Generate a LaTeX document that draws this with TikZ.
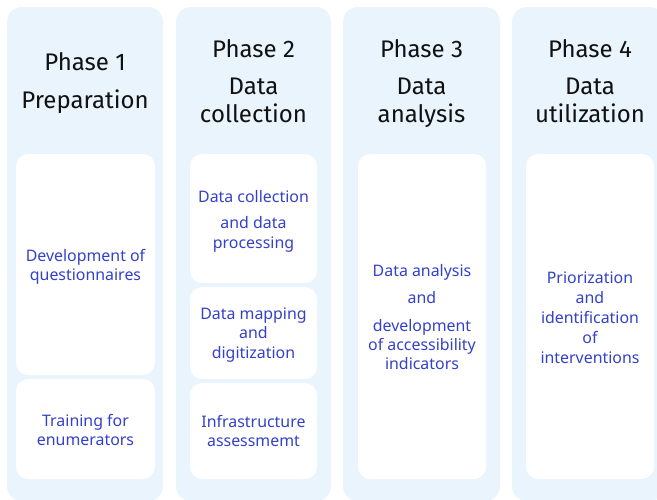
\documentclass[tikz,border=0pt]{standalone}
\usepackage{fontspec}
\setmainfont{Noto Sans}
\newfontfamily\titlefont{Fira Sans}
\definecolor{colfill}{HTML}{EAF4FD}
\definecolor{bodyblue}{HTML}{3441C9}
\definecolor{titleblack}{HTML}{111111}
\begin{document}
\begin{tikzpicture}[x=1pt,y=-1pt,
  column/.style={rectangle, rounded corners=15pt, fill=colfill, draw=none, inner sep=0pt, outer sep=0pt},
  card/.style={rectangle, rounded corners=12pt, fill=white, draw=none, inner sep=0pt, outer sep=0pt},
  ttl/.style={anchor=base, inner sep=0pt, text=titleblack, font=\titlefont\fontsize{24}{28}\selectfont},
  txt/.style={anchor=base, inner sep=0pt, text=bodyblue, font=\fontsize{15.9}{19}\selectfont}]
\useasboundingbox (0,0) rectangle (657,499);
\fill[white] (0,0) rectangle (657,499);
% columns
\node[column, minimum width=156pt, minimum height=494pt] (c1) at (85,254) {};
\node[column, minimum width=155pt, minimum height=494pt] (c2) at (253.5,254) {};
\node[column, minimum width=157pt, minimum height=494pt] (c3) at (421.5,254) {};
\node[column, minimum width=152pt, minimum height=494pt] (c4) at (588,254) {};
% cards
\node[card, minimum width=139pt, minimum height=221pt] (b11) at (85.5,264.5) {};
\node[card, minimum width=139pt, minimum height=100pt] (b12) at (85.5,429) {};
\node[card, minimum width=127pt, minimum height=129pt] (b21) at (253.5,218.5) {};
\node[card, minimum width=127pt, minimum height=92pt] (b22) at (253.5,333) {};
\node[card, minimum width=127pt, minimum height=96pt] (b23) at (253.5,431) {};
\node[card, minimum width=128pt, minimum height=325pt] (b31) at (422,316.5) {};
\node[card, minimum width=128pt, minimum height=325pt] (b41) at (590,316.5) {};
% titles
\node[ttl] (t1a) at (85,70) {Phase 1};
\node[ttl] (t1b) at (85,108) {Preparation};
\node[ttl] (t2a) at (253.5,57) {Phase 2};
\node[ttl] (t2b) at (253.5,94) {Data};
\node[ttl] (t2c) at (253.5,122) {collection};
\node[ttl] (t3a) at (421.5,57) {Phase 3};
\node[ttl] (t3b) at (421.5,94) {Data};
\node[ttl] (t3c) at (421.5,122) {analysis};
\node[ttl] (t4a) at (590,57) {Phase 4};
\node[ttl] (t4b) at (590,94) {Data};
\node[ttl] (t4c) at (590,122) {utilization};
% card texts
\node[txt] (x11a) at (85.5,261) {Development of};
\node[txt] (x11b) at (85.5,280) {questionnaires};
\node[txt] (x12a) at (85.5,426) {Training for};
\node[txt] (x12b) at (85.5,445) {enumerators};
\node[txt] (x21a) at (253.5,202) {Data collection};
\node[txt] (x21b) at (253.5,228) {and data};
\node[txt] (x21c) at (253.5,248) {processing};
\node[txt] (x22a) at (253.5,319) {Data mapping};
\node[txt] (x22b) at (253.5,338) {and};
\node[txt] (x22c) at (253.5,358) {digitization};
\node[txt] (x23a) at (253.5,427) {Infrastructure};
\node[txt] (x23b) at (253.5,446) {assessmemt};
\node[txt] (x31a) at (422,276) {Data analysis};
\node[txt] (x31b) at (422,303) {and};
\node[txt] (x31c) at (422,331) {development};
\node[txt] (x31d) at (422,350) {of accessibility};
\node[txt] (x31e) at (422,369) {indicators};
\node[txt] (x41a) at (590,283) {Priorization};
\node[txt] (x41b) at (590,303) {and};
\node[txt] (x41c) at (590,323) {identification};
\node[txt] (x41d) at (590,343) {of};
\node[txt] (x41e) at (590,363) {interventions};
\end{tikzpicture}
\end{document}
